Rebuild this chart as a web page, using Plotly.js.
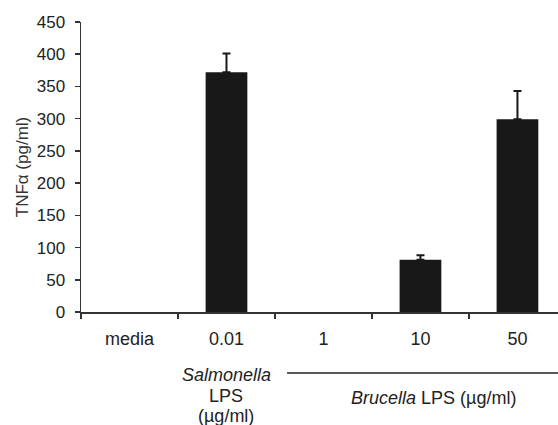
<!DOCTYPE html>
<html>
<head>
<meta charset="utf-8">
<script src="https://cdn.plot.ly/plotly-3.0.1.min.js"></script>
<style>html,body{margin:0;padding:0;background:#fff;}#chart{width:558px;height:425px;}</style>
</head>
<body>
<div id="chart"></div>
<script>
const categories = ["media", "0.01", "1", "10", "50"];
const tnfValues = [0, 372, 0, 81, 299];
const tnfErrors = [null, 29, null, 7, 44];
const yTicks = [0, 50, 100, 150, 200, 250, 300, 350, 400, 450];
const salmonellaLines = ["<i>Salmonella</i>", "LPS", "(µg/ml)"];
const brucellaLabel = "<i>Brucella</i> LPS (µg/ml)";

const txt = '#222222';
const fontFam = 'Liberation Sans, Arial, sans-serif';

const barTrace = {
  type: 'bar',
  x: categories,
  y: tnfValues,
  width: 0.43,
  marker: {color: '#181818', line: {width: 0}},
  hoverinfo: 'none'
};

const withErr = categories.map((c, i) => i).filter(i => tnfErrors[i] !== null);
const errTrace = {
  type: 'scatter', mode: 'markers',
  x: withErr.map(i => categories[i]),
  y: withErr.map(i => tnfValues[i]),
  marker: {size: 1, opacity: 0},
  error_y: {
    type: 'data', symmetric: false,
    array: withErr.map(i => tnfErrors[i]),
    arrayminus: withErr.map(() => 0),
    color: '#181818', thickness: 2, width: 4
  },
  hoverinfo: 'none'
};

const salY = [-0.217, -0.290, -0.360];
const annotations = salmonellaLines.map((t, i) => ({
  xref: 'paper', yref: 'paper', x: 0.305, y: salY[i], yanchor: 'middle', xanchor: 'center',
  text: t, showarrow: false, font: {family: fontFam, size: 18, color: txt}
}));
annotations.push({
  xref: 'paper', yref: 'paper', x: 0.738, y: -0.297, yanchor: 'middle', xanchor: 'center',
  text: brucellaLabel, showarrow: false, font: {family: fontFam, size: 18, color: txt}
});

const layout = {
  width: 558, height: 425,
  margin: {l: 81, r: 0, t: 22, b: 113},
  paper_bgcolor: '#ffffff', plot_bgcolor: '#ffffff',
  showlegend: false,
  font: {family: fontFam, size: 15, color: txt},
  xaxis: {
    type: 'category',
    range: [-0.5, 4.418],
    showline: true, linecolor: '#333333', linewidth: 1.5,
    ticks: 'outside', tickson: 'boundaries', ticklen: 5, tickwidth: 1.5, tickcolor: '#333333',
    ticklabelstandoff: 10,
    showgrid: false, zeroline: false,
    tickfont: {family: fontFam, size: 18, color: txt},
    fixedrange: true
  },
  yaxis: {
    range: [0, 450],
    tickvals: yTicks,
    ticktext: yTicks.map(String),
    showline: true, linecolor: '#333333', linewidth: 1.5,
    ticks: 'outside', ticklen: 5, tickwidth: 1.5, tickcolor: '#333333',
    ticklabelstandoff: 6,
    showgrid: false, zeroline: false,
    tickfont: {family: fontFam, size: 17, color: txt},
    title: {text: 'TNFα (pg/ml)', font: {family: fontFam, size: 17, color: '#333333'}, standoff: 4},
    fixedrange: true
  },
  shapes: [{
    type: 'line', xref: 'paper', yref: 'paper',
    x0: 0.432, x1: 1.0, y0: -0.21, y1: -0.21,
    line: {color: '#222222', width: 1.5}
  }],
  annotations: annotations
};

Plotly.newPlot('chart', [barTrace, errTrace], layout, {displayModeBar: false, staticPlot: true});
</script>
</body>
</html>
